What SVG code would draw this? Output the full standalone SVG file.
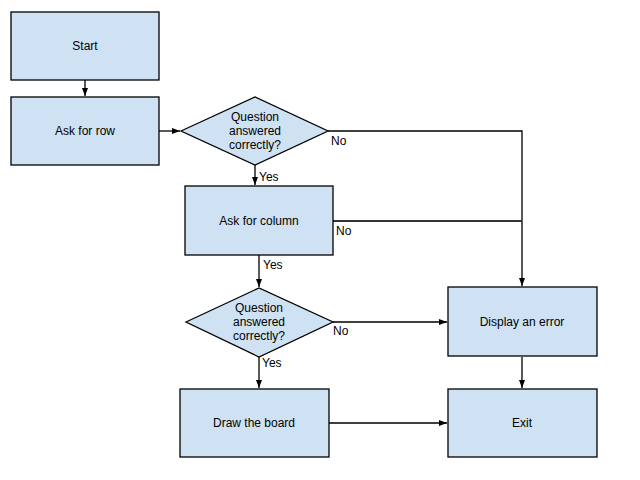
<svg xmlns="http://www.w3.org/2000/svg" width="640" height="480" viewBox="0 0 640 480">
<style>
.box{fill:#cfe2f3;stroke:#000;stroke-width:1.3}
.t{font-family:"Liberation Sans",Arial,sans-serif;font-size:12px;fill:#000;text-anchor:middle}
.l{font-family:"Liberation Sans",Arial,sans-serif;font-size:12px;fill:#000}
.c{fill:none;stroke:#000;stroke-width:1.3}
</style>
<defs>
<marker id="ah" markerWidth="8" markerHeight="8" refX="8" refY="4" orient="auto" markerUnits="userSpaceOnUse">
<path d="M0,1 L8,4 L0,7 Z" fill="#000"/>
</marker>
</defs>
<rect width="640" height="480" fill="#fff"/>
<g id="connectors">
<line class="c" x1="85" y1="80" x2="85" y2="96" marker-end="url(#ah)"/>
<line class="c" x1="159" y1="131" x2="180" y2="131" marker-end="url(#ah)"/>
<line class="c" x1="255" y1="165" x2="255" y2="185" marker-end="url(#ah)"/>
<polyline class="c" points="328,131 522,131 522,286" marker-end="url(#ah)"/>
<line class="c" x1="333" y1="221" x2="522" y2="221" style="stroke-width:1.8;stroke:#333"/>
<line class="c" x1="259" y1="255" x2="259" y2="287" marker-end="url(#ah)"/>
<line class="c" x1="333" y1="322" x2="447" y2="322" marker-end="url(#ah)"/>
<line class="c" x1="259" y1="357" x2="259" y2="388" marker-end="url(#ah)"/>
<line class="c" x1="522" y1="357" x2="522" y2="388" marker-end="url(#ah)"/>
<line class="c" x1="329" y1="423" x2="447" y2="423" marker-end="url(#ah)"/>
<text class="l" x="259" y="181">Yes</text>
<text class="l" x="331" y="145">No</text>
<text class="l" x="336" y="235">No</text>
<text class="l" x="263" y="269">Yes</text>
<text class="l" x="333" y="335">No</text>
<text class="l" x="262" y="367">Yes</text>
</g>
<g id="start">
<rect class="box" x="11" y="12" width="148" height="68"/>
<text class="t" x="85" y="50">Start</text>
</g>
<g id="askrow">
<rect class="box" x="11" y="97" width="148" height="68"/>
<text class="t" x="85" y="135">Ask for row</text>
</g>
<g id="q1">
<polygon class="box" points="181,131 255,97 328,131 255,165"/>
<text class="t" x="255" y="121">Question</text>
<text class="t" x="255" y="135">answered</text>
<text class="t" x="255" y="149">correctly?</text>
</g>
<g id="askcol">
<rect class="box" x="185" y="186" width="148" height="69"/>
<text class="t" x="259" y="225">Ask for column</text>
</g>
<g id="q2">
<polygon class="box" points="186,322 259,288 333,322 259,357"/>
<text class="t" x="259" y="312">Question</text>
<text class="t" x="259" y="326">answered</text>
<text class="t" x="259" y="340">correctly?</text>
</g>
<g id="error">
<rect class="box" x="448" y="287" width="149" height="69"/>
<text class="t" x="522" y="326">Display an error</text>
</g>
<g id="draw">
<rect class="box" x="180" y="389" width="149" height="68"/>
<text class="t" x="254" y="427">Draw the board</text>
</g>
<g id="exit">
<rect class="box" x="448" y="389" width="149" height="68"/>
<text class="t" x="522" y="427">Exit</text>
</g>
</svg>
